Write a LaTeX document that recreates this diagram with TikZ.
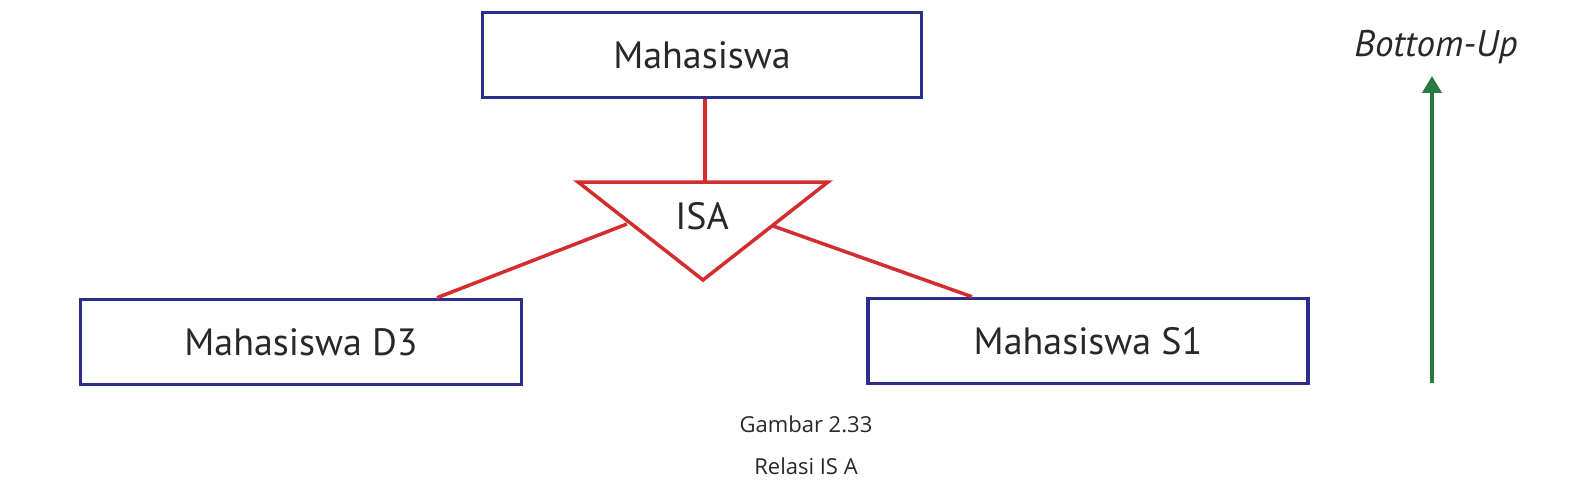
\documentclass[tikz,border=0pt]{standalone}
\usepackage{fontspec}
\setmainfont{PT Sans}
\newfontfamily\capfont{Open Sans}
\usetikzlibrary{arrows.meta,calc}
\definecolor{boxblue}{RGB}{45,45,140}
\definecolor{isared}{RGB}{212,45,45}
\definecolor{arrgreen}{RGB}{40,122,62}
\definecolor{txtgray}{RGB}{40,40,40}
\tikzset{
  entity/.style={draw=boxblue, line width=3.5pt, minimum height=85pt, inner sep=0pt, font=\fontsize{38}{42}\selectfont, text=txtgray},
  isaline/.style={draw=isared, line width=3.5pt},
  captext/.style={font=\capfont\fontsize{22}{26}\selectfont, text=txtgray}
}
\begin{document}
\begin{tikzpicture}[x=1pt,y=-1pt]
\useasboundingbox[fill=white] (0,0) rectangle (1577,492);
\node[entity, minimum width=439pt] (mhs) at (702,55) {Mahasiswa};
\node[entity, minimum width=441pt] (d3) at (301,342) {Mahasiswa D3};
\node[entity, minimum width=440pt] (s1) at (1088,341) {Mahasiswa S1};
\coordinate (tl) at (578,182);
\coordinate (tr) at (828,182);
\coordinate (tb) at (703,280);
\draw[isaline, line join=miter] (tl) -- (tr) -- (tb) -- cycle;
\node[font=\fontsize{38}{42}\selectfont, text=txtgray] (isa) at (702,216) {ISA};
\coordinate (tt) at (705,182);
\coordinate (lj) at (627,224);
\coordinate (rj) at (773,226);
\draw[isaline] (mhs.south -| tt) -- (tt);
\draw[isaline] (lj) -- (d3.north -| 437,0);
\draw[isaline] (rj) -- (s1.north -| 972,0);
\coordinate (abot) at (1432,383);
\coordinate (atop) at (1432,76);
\draw[draw=arrgreen, line width=4pt, -{Triangle[length=17pt,width=19pt]}] (abot) -- (atop);
\node[font=\itshape\fontsize{37}{40}\selectfont, text=txtgray] (bu) at (1436,47) {Bottom-Up};
\node[captext] (cap1) at (806,424) {Gambar 2.33};
\node[captext] (cap2) at (806,466) {Relasi IS A};
\end{tikzpicture}
\end{document}
